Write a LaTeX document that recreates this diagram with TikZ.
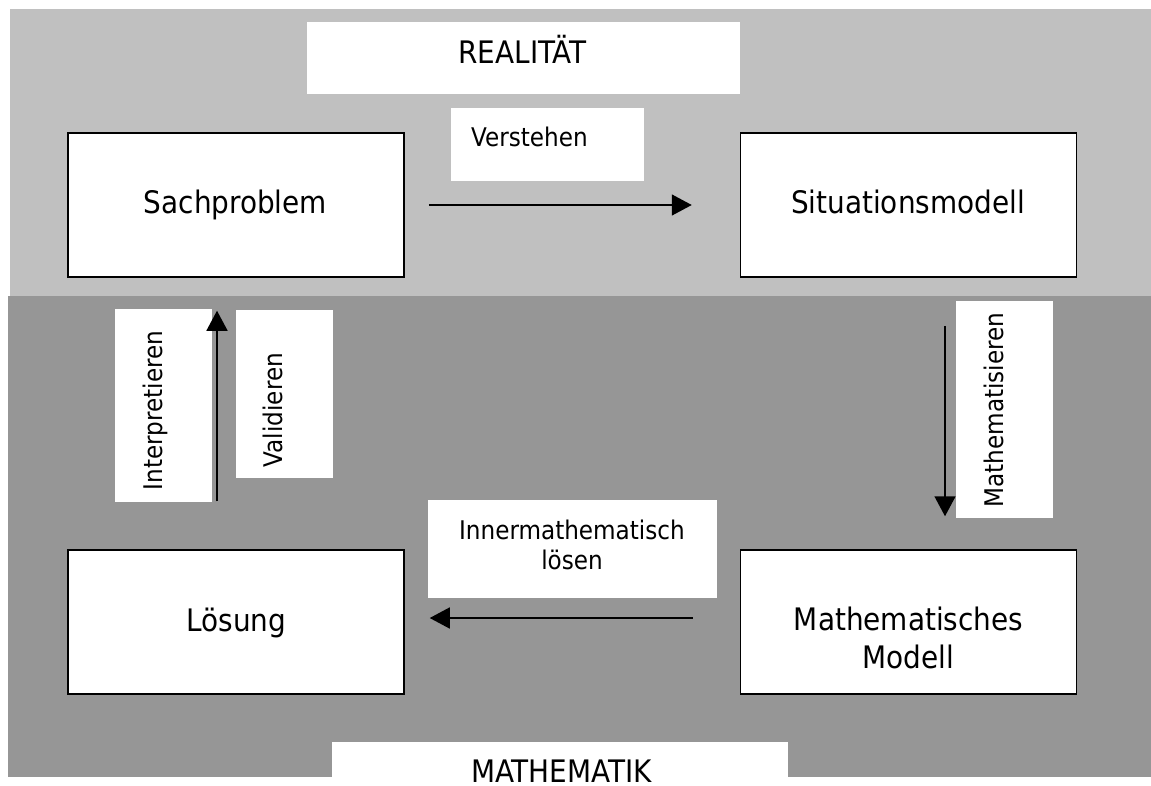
\documentclass[tikz,border=0pt]{standalone}
\usepackage{fontspec}
\setmainfont{DejaVu Sans Condensed}
\usetikzlibrary{arrows.meta}
\definecolor{realgray}{RGB}{192,192,192}
\definecolor{mathgray}{RGB}{150,150,150}
\begin{document}
\begin{tikzpicture}[x=1pt,y=-1pt,
  stage/.style={draw=black, line width=1.5pt, fill=white, inner sep=0pt,
                minimum width=336pt, minimum height=144pt},
  tag/.style={fill=white, inner sep=0pt},
  bigtext/.style={inner sep=0pt, anchor=base, align=center,
                  font=\fontsize{31}{38}\selectfont},
  smalltext/.style={inner sep=0pt, anchor=base, align=center,
                    font=\fontsize{25.7}{30}\selectfont},
  arr/.style={line width=1.5pt, -{Triangle[length=20pt,width=21pt]}}]
\useasboundingbox (0,0) rectangle (1151,785);

% the two layers: reality (top) and mathematics (bottom)
\fill[realgray] (10,9) rectangle (1151,296);
\fill[mathgray] (8,296) rectangle (1151,777);

% white label panels
\node[tag, minimum width=433pt, minimum height=72pt]  (realtag)  at (523.5,58) {};
\node[tag, minimum width=193pt, minimum height=73pt]  (verstag)  at (547.5,144.5) {};
\node[tag, minimum width=97pt,  minimum height=193pt] (inttag)   at (163.5,405.5) {};
\node[tag, minimum width=97pt,  minimum height=168pt] (valtag)   at (284.5,394) {};
\node[tag, minimum width=97pt,  minimum height=217pt] (mathtag)  at (1004.5,409.5) {};
\node[tag, minimum width=289pt, minimum height=98pt]  (inmtag)   at (572.5,549) {};
\node[tag, minimum width=456pt, minimum height=43pt]  (mathetag) at (560,763.5) {};

% the four stages of the modelling cycle
\node[stage] (sach) at (236,205) {};
\node[stage] (situ) at (908.5,205) {};
\node[stage] (loes) at (236,622) {};
\node[stage] (mm)   at (908.5,622) {};

% stage texts (multi-line texts sit on the baseline of their last line)
\node[bigtext] (sachtext) at (235.5,213) {Sachproblem};
\node[bigtext] (situtext) at (908,213) {Situationsmodell};
\node[bigtext] (loestext) at (236.5,631) {Lösung};
\node[bigtext] (mmtext)   at (908.5,668) {Mathematisches\\Modell};

% layer titles
\node[bigtext] (realtext)  at (522.5,63) {REALITÄT};
\node[bigtext] (mathetext) at (561.5,782) {MATHEMATIK};

% step labels
\node[smalltext, anchor=base west] (verstext) at (471,146) {Verstehen};
\node[smalltext] (inmtext) at (572,569) {Innermathematisch\\lösen};
\node[smalltext, rotate=90] (inttext)  at (162,410.5) {Interpretieren};
\node[smalltext, rotate=90] (valtext)  at (282,410) {Validieren};
\node[smalltext, rotate=90] (mathtext) at (1003,410) {Mathematisieren};

% transitions
\draw[arr, shorten <=24pt, shorten >=48pt] (sach.east) -- (situ.west);
\draw[arr, shorten <=48pt, shorten >=33pt]
  ([xshift=36.5pt]situ.south) -- ([xshift=36.5pt]mm.north);
\draw[arr, shorten <=47pt, shorten >=25pt]
  ([yshift=4pt]mm.west) -- ([yshift=4pt]loes.east);
\draw[arr, shorten <=48pt, shorten >=33pt]
  ([xshift=-19pt]loes.north) -- ([xshift=-19pt]sach.south);
\end{tikzpicture}
\end{document}
